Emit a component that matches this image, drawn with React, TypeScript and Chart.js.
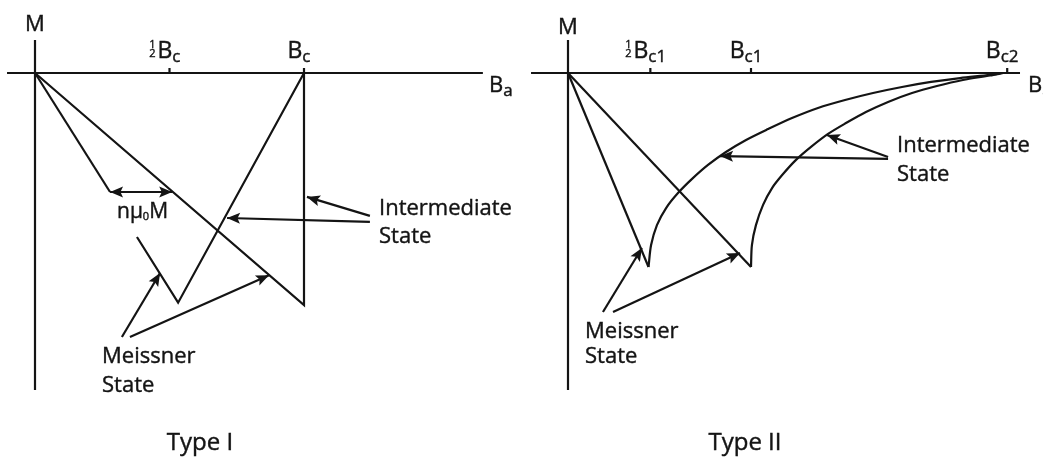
import { useEffect, useRef } from "react";
import { Chart, registerables } from "chart.js";

Chart.register(...registerables);

// ---------- Type I: field in units of Bc, magnetisation in units of M(Bc) ----------
const typeIAxisX = [-0.104, 1.665];
const typeIAxisY = [0.142, -1.366];
const typeITicks = [0.5, 1];
const typeITickLabels = [
  { half: true, base: "B", sub: "c" },
  { half: false, base: "B", sub: "c" },
];
// demagnetised sample: steep Meissner line, then the intermediate-state V
const typeIDemagX = [0, 0.279];
const typeIDemagY = [0, -0.513];
const typeIIntermediateX = [0.379, 0.532, 1];
const typeIIntermediateY = [-0.707, -0.99, 0];
// ideal (needle) sample: Meissner line down to Bc, then the jump back to zero
const typeIMeissnerX = [0, 1, 1];
const typeIMeissnerY = [0, -1, 0];

// ---------- Type II: field in units of Bc1 ----------
const typeIIAxisX = [-0.202, 2.47];
const typeIIAxisY = [0.17, -1.634];
const typeIITicks = [0.45, 1, 2.4];
const typeIITickLabels = [
  { half: true, base: "B", sub: "c1" },
  { half: false, base: "B", sub: "c1" },
  { half: false, base: "B", sub: "c2" },
];
const typeIIDemagX = [0, 0.44];
const typeIIDemagY = [0, -1];
const typeIIMeissnerX = [0, 1];
const typeIIMeissnerY = [0, -1];
// mixed-state branches rising to zero at Bc2
const typeIIMixedDemagX = [0.44, 0.454, 0.486, 0.536, 0.601, 0.678, 0.765, 0.863, 0.973, 1.093, 1.224, 1.366, 1.514, 1.667, 1.825, 1.984, 2.142, 2.306, 2.377];
const typeIIMixedDemagY = [-1, -0.887, -0.784, -0.696, -0.619, -0.546, -0.474, -0.407, -0.345, -0.289, -0.232, -0.18, -0.139, -0.103, -0.072, -0.046, -0.026, -0.01, 0];
const typeIIMixedX = [1, 1.005, 1.027, 1.066, 1.115, 1.175, 1.246, 1.328, 1.421, 1.519, 1.628, 1.749, 1.88, 2.016, 2.158, 2.306, 2.377];
const typeIIMixedY = [-1, -0.887, -0.784, -0.68, -0.593, -0.521, -0.448, -0.381, -0.314, -0.258, -0.201, -0.149, -0.103, -0.067, -0.036, -0.013, 0];

const INK = "#141414";
const FONT = '"Open Sans", "DejaVu Sans", sans-serif';

type Pt = [number, number];
type Arrow = { from: Pt; to: Pt; both?: boolean };
type Part = { text: string; size: number; dy?: number; half?: boolean };
type TextItem = { parts: Part[]; x: number; y: number; align: "left" | "center" };

const pts = (xs: number[], ys: number[]) => xs.map((x, i) => ({ x, y: ys[i] }));

function put(ctx: CanvasRenderingContext2D, text: string, x: number, y: number) {
  ctx.fillText(text, x, y);
  ctx.strokeText(text, x, y);
}

function drawParts(ctx: CanvasRenderingContext2D, parts: Part[], x: number, y: number, align: "left" | "center") {
  const widths = parts.map((p) => {
    if (p.half) return 9;
    ctx.font = `${p.size}px ${FONT}`;
    return ctx.measureText(p.text).width;
  });
  const total = widths.reduce((a, b) => a + b, 0);
  let cx = align === "center" ? x - total / 2 : x;
  ctx.lineWidth = 0.4;
  parts.forEach((p, i) => {
    ctx.font = `${p.size}px ${FONT}`;
    if (p.half) {
      ctx.textAlign = "center";
      put(ctx, "1", cx + 4, y - 10);
      put(ctx, "2", cx + 4, y - 1);
      ctx.textAlign = "left";
    } else {
      put(ctx, p.text, cx, y + (p.dy || 0));
    }
    cx += widths[i];
  });
}

function drawArrowHead(ctx: CanvasRenderingContext2D, fx: number, fy: number, tx: number, ty: number) {
  const len = 13;
  const half = 5.5;
  const a = Math.atan2(ty - fy, tx - fx);
  const c = Math.cos(a);
  const s = Math.sin(a);
  ctx.beginPath();
  ctx.moveTo(tx, ty);
  ctx.lineTo(tx - len * c + half * s, ty - len * s - half * c);
  ctx.lineTo(tx - len * 0.8 * c, ty - len * 0.8 * s);
  ctx.lineTo(tx - len * c - half * s, ty - len * s + half * c);
  ctx.closePath();
  ctx.fill();
}

const annotate = {
  id: "annotate",
  afterDatasetsDraw(chart: any, _args: any, opts: any) {
    const { ctx } = chart;
    const sx = chart.scales.x;
    const sy = chart.scales.y;
    const px = (v: number) => sx.getPixelForValue(v);
    const py = (v: number) => sy.getPixelForValue(v);
    ctx.save();
    ctx.fillStyle = INK;
    ctx.strokeStyle = INK;
    ctx.textBaseline = "alphabetic";
    ctx.textAlign = "left";

    // tick marks and their labels above the field axis
    (opts.ticks as number[]).forEach((t, i) => {
      const tx = px(t);
      ctx.lineWidth = 2.2;
      ctx.beginPath();
      ctx.moveTo(tx, py(0));
      ctx.lineTo(tx, py(0) - 5);
      ctx.stroke();
      const lab = opts.tickLabels[i];
      const parts: Part[] = [];
      if (lab.half) parts.push({ text: "", size: 11, half: true });
      parts.push({ text: lab.base, size: 23 });
      parts.push({ text: lab.sub, size: 17, dy: 4 });
      drawParts(ctx, parts, tx - 5, py(0) - 15, "center");
    });

    // pointer arrows
    (opts.arrows as Arrow[]).forEach((a) => {
      const fx = px(a.from[0]);
      const fy = py(a.from[1]);
      const tx = px(a.to[0]);
      const ty = py(a.to[1]);
      ctx.lineWidth = 2.2;
      ctx.beginPath();
      ctx.moveTo(fx, fy);
      ctx.lineTo(tx, ty);
      ctx.stroke();
      drawArrowHead(ctx, fx, fy, tx, ty);
      if (a.both) drawArrowHead(ctx, tx, ty, fx, fy);
    });

    (opts.texts as TextItem[]).forEach((t) => drawParts(ctx, t.parts, t.x, t.y, t.align));
    ctx.restore();
  },
};

function lineSet(data: { x: number; y: number }[], smooth = false) {
  return {
    data,
    showLine: true,
    borderColor: INK,
    borderWidth: 2.2,
    pointRadius: 0,
    fill: false,
    tension: smooth ? 0.3 : 0,
  };
}

type PanelProps = {
  width: number;
  left: number;
  xRange: [number, number];
  yRange: [number, number];
  datasets: any[];
  ticks: number[];
  tickLabels: any[];
  arrows: Arrow[];
  texts: TextItem[];
};

function Panel(props: PanelProps) {
  const ref = useRef<HTMLCanvasElement | null>(null);
  useEffect(() => {
    if (!ref.current) return;
    const chart = new Chart(ref.current, {
      type: "scatter",
      data: { datasets: props.datasets },
      options: {
        animation: false,
        responsive: false,
        devicePixelRatio: 1,
        layout: { padding: 0 },
        events: [],
        scales: {
          x: { type: "linear", display: false, min: props.xRange[0], max: props.xRange[1] },
          y: { type: "linear", display: false, min: props.yRange[0], max: props.yRange[1] },
        },
        plugins: {
          legend: { display: false },
          tooltip: { enabled: false },
          annotate: {
            ticks: props.ticks,
            tickLabels: props.tickLabels,
            arrows: props.arrows,
            texts: props.texts,
          },
        } as any,
      },
      plugins: [annotate],
    });
    return () => chart.destroy();
  }, []);
  return (
    <canvas
      ref={ref}
      width={props.width}
      height={463}
      style={{ position: "absolute", left: props.left, top: 0, width: props.width, height: 463 }}
    />
  );
}

const word = (text: string, size = 22): Part[] => [{ text, size }];

export default function App() {
  const typeIData = [
    lineSet(pts(typeIAxisX, [0, 0])),
    lineSet(pts([0, 0], typeIAxisY)),
    lineSet(pts(typeIDemagX, typeIDemagY)),
    lineSet(pts(typeIIntermediateX, typeIIntermediateY)),
    lineSet(pts(typeIMeissnerX, typeIMeissnerY)),
  ];
  const typeIIData = [
    lineSet(pts(typeIIAxisX, [0, 0])),
    lineSet(pts([0, 0], typeIIAxisY)),
    lineSet(pts(typeIIDemagX, typeIIDemagY)),
    lineSet(pts(typeIIMeissnerX, typeIIMeissnerY)),
    lineSet(pts(typeIIMixedDemagX, typeIIMixedDemagY), true),
    lineSet(pts(typeIIMixedX, typeIIMixedY), true),
  ];

  const typeIArrows: Arrow[] = [
    { from: [0.279, -0.513], to: [0.51, -0.513], both: true },
    { from: [0.323, -1.138], to: [0.465, -0.862] },
    { from: [0.353, -1.138], to: [0.87, -0.872] },
    { from: [1.245, -0.616], to: [1.011, -0.534] },
    { from: [1.245, -0.642], to: [0.714, -0.625] },
  ];
  const typeIIArrows: Arrow[] = [
    { from: [0.191, -1.232], to: [0.404, -0.902] },
    { from: [0.246, -1.232], to: [0.94, -0.928] },
    { from: [1.749, -0.443], to: [0.831, -0.428] },
    { from: [1.749, -0.433], to: [1.415, -0.32] },
  ];

  const typeITexts: TextItem[] = [
    { parts: word("M", 22), x: 35, y: 31, align: "center" },
    { parts: [{ text: "B", size: 22 }, { text: "a", size: 17, dy: 4 }], x: 489, y: 92, align: "left" },
    {
      parts: [
        { text: "nμ", size: 21 },
        { text: "0", size: 11, dy: 2 },
        { text: "M", size: 21 },
      ],
      x: 117,
      y: 218,
      align: "left",
    },
    { parts: word("Intermediate"), x: 379, y: 215, align: "left" },
    { parts: word("State"), x: 379, y: 243, align: "left" },
    { parts: word("Meissner"), x: 102, y: 363, align: "left" },
    { parts: word("State"), x: 102, y: 392, align: "left" },
    { parts: word("Type I", 24), x: 200, y: 450, align: "center" },
  ];
  const typeIITexts: TextItem[] = [
    { parts: word("M", 22), x: 47, y: 34, align: "center" },
    { parts: [{ text: "B", size: 22 }, { text: "a", size: 17, dy: 4 }], x: 507, y: 92, align: "left" },
    { parts: word("Intermediate"), x: 376, y: 152, align: "left" },
    { parts: word("State"), x: 376, y: 181, align: "left" },
    { parts: word("Meissner"), x: 64, y: 338, align: "left" },
    { parts: word("State"), x: 64, y: 363, align: "left" },
    { parts: word("Type II", 24), x: 224, y: 450, align: "center" },
  ];

  return (
    <div style={{ position: "fixed", left: 0, top: 0, width: 1043, height: 463, background: "#fff", overflow: "hidden" }}>
      <Panel
        width={521}
        left={0}
        xRange={[-35 / 269, 486 / 269]}
        yRange={[73 / 232 - 463 / 232, 73 / 232]}
        datasets={typeIData}
        ticks={typeITicks}
        tickLabels={typeITickLabels}
        arrows={typeIArrows}
        texts={typeITexts}
      />
      <Panel
        width={522}
        left={521}
        xRange={[-47 / 183, 475 / 183]}
        yRange={[73 / 194 - 463 / 194, 73 / 194]}
        datasets={typeIIData}
        ticks={typeIITicks}
        tickLabels={typeIITickLabels}
        arrows={typeIIArrows}
        texts={typeIITexts}
      />
    </div>
  );
}
